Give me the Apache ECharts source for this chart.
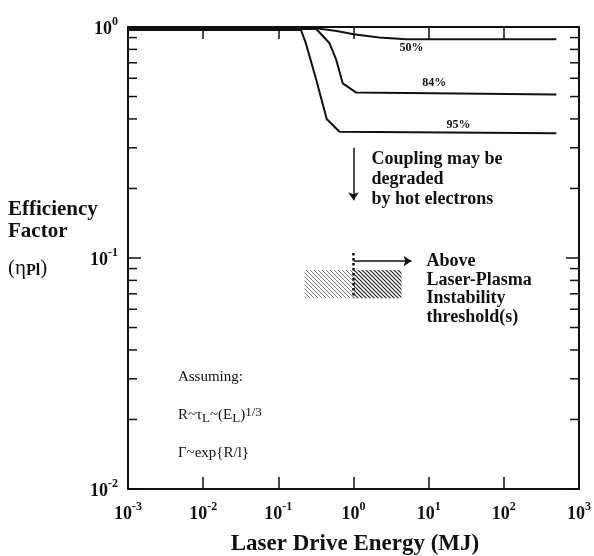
<!DOCTYPE html>
<html style="height: 100%">
<head>
  <meta charset="utf-8">
  <script src="https://cdn.jsdelivr.net/npm/echarts@6/dist/echarts.min.js"></script>
</head>
<body style="height: 100%; margin: 0; background: #fff">
  <div id="container" style="width: 594px; height: 556px"></div>
  <script>
    // laser drive energy (MJ) vs efficiency factor, one curve per confidence level
    var e50 = [0.001, 0.3, 0.6, 1, 2.2, 5, 500];
    var v50 = [0.99, 0.99, 0.96, 0.93, 0.90, 0.885, 0.885];
    var e84 = [0.001, 0.32, 0.48, 0.59, 0.72, 1.09, 500];
    var v84 = [0.98, 0.98, 0.85, 0.72, 0.57, 0.52, 0.51];
    var e95 = [0.001, 0.2, 0.23, 0.32, 0.44, 0.65, 500];
    var v95 = [0.97, 0.97, 0.86, 0.59, 0.40, 0.352, 0.347];

    // log minor ticks on the efficiency axis
    var minorY = [0.02, 0.03, 0.04, 0.05, 0.06, 0.07, 0.08, 0.09,
                  0.2, 0.3, 0.4, 0.5, 0.6, 0.7, 0.8, 0.9];

    // hatched instability box: [x0, x1, y0, y1, shade]
    var hatchBoxes = [[0.224, 1, 0.067, 0.0887, 0], [1, 4.36, 0.067, 0.0887, 1]];

    // annotations (data coords)
    var noteX = [5.9, 11.9, 24.9];
    var noteY = [0.81, 0.573, 0.377];
    var noteText = ['50%', '84%', '95%'];

    var blockX = [1.74, 9.35, 0.00461];
    var blockY = [0.294, 0.106, 0.0335];
    var blockText = [
      'Coupling may be\ndegraded\nby hot electrons',
      'Above\nLaser-Plasma\nInstability\nthreshold(s)',
      'Assuming:\n\nR~τ{sub|L}~(E{sub|L}){sup|1/3}\n\nΓ~exp{R/l}'
    ];

    var serif = '"Liberation Serif", "DejaVu Serif", serif';
    var ink = '#111';

    function zip(a, b) {
      return a.map(function(x, i) { return [x, b[i]]; });
    }

    function powLabel(v) {
      var e = Math.round(Math.log10(v));
      return '{b|10}{s|' + e + '}';
    }

    function hatch(color, w) {
      var c = document.createElement('canvas');
      c.width = 4; c.height = 4;
      var ctx = c.getContext('2d');
      ctx.strokeStyle = color;
      ctx.lineWidth = w;
      ctx.beginPath();
      ctx.moveTo(0, 0); ctx.lineTo(4, 4);
      ctx.moveTo(-1, 3); ctx.lineTo(1, 5);
      ctx.moveTo(3, -1); ctx.lineTo(5, 1);
      ctx.stroke();
      return c;
    }
    var patterns = [
      { image: hatch('#777', 1), repeat: 'repeat' },
      { image: hatch('#222', 1.2), repeat: 'repeat' }
    ];

    var labelRich = {
      b: { fontFamily: serif, fontWeight: 'bold', fontSize: 18, color: ink, verticalAlign: 'bottom', lineHeight: 22 },
      s: { fontFamily: serif, fontWeight: 'bold', fontSize: 12, color: ink, verticalAlign: 'top', lineHeight: 12 }
    };

    var dom = document.getElementById('container');
    var myChart = echarts.init(dom);

    var curveStyle = { color: ink, width: 2 };

    option = {
      animation: false,
      backgroundColor: '#fff',
      grid: { left: 128, right: 14, top: 27, bottom: 67 },
      xAxis: [{
        type: 'log', min: 0.001, max: 1000, splitNumber: 6,
        axisLine: { lineStyle: { color: ink, width: 2 } },
        axisTick: { inside: true, length: 12, lineStyle: { color: ink, width: 1.5 } },
        splitLine: { show: false },
        axisLabel: { margin: 12, formatter: powLabel, rich: labelRich }
      }, {
        type: 'log', min: 0.001, max: 1000, splitNumber: 6, position: 'top',
        axisLine: { lineStyle: { color: ink, width: 2 } },
        axisTick: { inside: true, length: 12, lineStyle: { color: ink, width: 1.5 } },
        splitLine: { show: false },
        axisLabel: { show: false }
      }],
      yAxis: [{
        type: 'log', min: 0.01, max: 1, splitNumber: 2,
        axisLine: { lineStyle: { color: ink, width: 2 } },
        axisTick: { inside: true, length: 13, lineStyle: { color: ink, width: 1.5 } },
        splitLine: { show: false },
        axisLabel: { margin: 10, formatter: powLabel, rich: labelRich }
      }, {
        type: 'log', min: 0.01, max: 1, splitNumber: 2, position: 'right',
        axisLine: { lineStyle: { color: ink, width: 2 } },
        axisTick: { inside: true, length: 13, lineStyle: { color: ink, width: 1.5 } },
        splitLine: { show: false },
        axisLabel: { show: false }
      }],
      graphic: [
        { type: 'text', x: 8, y: 210, style: { text: 'Efficiency', font: 'bold 21px ' + serif, fill: ink, verticalAlign: 'middle' } },
        { type: 'text', x: 8, y: 232, style: { text: 'Factor', font: 'bold 21px ' + serif, fill: ink, verticalAlign: 'middle' } },
        { type: 'text', x: 8, y: 268, style: {
          text: '(η{sub|Pl})', font: '21px ' + serif, fill: ink, verticalAlign: 'middle',
          rich: { sub: { fontFamily: serif, fontWeight: 'bold', fontSize: 16, verticalAlign: 'bottom', lineHeight: 14, padding: [10, 0, 0, 0] } }
        } },
        { type: 'text', x: 355, y: 544, style: { text: 'Laser Drive Energy (MJ)', font: 'bold 23px ' + serif, fill: ink, align: 'center', verticalAlign: 'middle' } }
      ],
      series: [{
        name: '50%', type: 'line', data: zip(e50, v50), symbol: 'none', lineStyle: curveStyle,
        markLine: {
          silent: true, symbol: ['none', 'arrow'], symbolSize: 8,
          label: { show: false },
          lineStyle: { color: ink, width: 1.5, type: 'solid' },
          data: [
            [{ coord: [1, 0.30] }, { coord: [1, 0.178] }],
            [{ coord: [1, 0.097] }, { coord: [5.9, 0.097] }],
            [{ coord: [1, 0.105], symbol: 'none', lineStyle: { type: 'dotted', width: 2.5, color: ink } },
             { coord: [1, 0.067], symbol: 'none' }]
          ]
        }
      }, {
        name: '84%', type: 'line', data: zip(e84, v84), symbol: 'none', lineStyle: curveStyle
      }, {
        name: '95%', type: 'line', data: zip(e95, v95), symbol: 'none', lineStyle: curveStyle
      }, {
        type: 'custom', silent: true, z: 1,
        data: hatchBoxes,
        encode: { x: [0, 1], y: [2, 3] },
        renderItem: function(params, api) {
          var p0 = api.coord([api.value(0), api.value(3)]);
          var p1 = api.coord([api.value(1), api.value(2)]);
          return {
            type: 'rect',
            shape: { x: p0[0], y: p0[1], width: p1[0] - p0[0], height: p1[1] - p0[1] },
            style: { fill: patterns[api.value(4)] }
          };
        }
      }, {
        type: 'custom', silent: true,
        data: minorY.map(function(v) { return [1, v]; }),
        encode: { x: 0, y: 1 },
        renderItem: function(params, api) {
          var cs = params.coordSys;
          var y = api.coord([1, api.value(1)])[1];
          var st = { stroke: ink, lineWidth: 1.5 };
          return {
            type: 'group',
            children: [
              { type: 'line', shape: { x1: cs.x, y1: y, x2: cs.x + 9, y2: y }, style: st },
              { type: 'line', shape: { x1: cs.x + cs.width, y1: y, x2: cs.x + cs.width - 9, y2: y }, style: st }
            ]
          };
        }
      }, {
        type: 'custom', silent: true,
        data: zip(noteX, noteY),
        encode: { x: 0, y: 1 },
        renderItem: function(params, api) {
          var p = api.coord([api.value(0), api.value(1)]);
          return {
            type: 'text', x: p[0], y: p[1],
            style: { text: noteText[params.dataIndex], font: 'bold 12px ' + serif, fill: ink, align: 'center', verticalAlign: 'middle' }
          };
        }
      }, {
        type: 'custom', silent: true,
        data: zip(blockX, blockY),
        encode: { x: 0, y: 1 },
        renderItem: function(params, api) {
          var p = api.coord([api.value(0), api.value(1)]);
          var i = params.dataIndex;
          var plain = i === 2;
          return {
            type: 'text', x: p[0], y: p[1],
            style: {
              text: blockText[i],
              font: (plain ? '' : 'bold ') + (plain ? 15 : 18) + 'px ' + serif,
              lineHeight: plain ? 19 : (i === 0 ? 20 : 18.5),
              fill: ink, align: 'left', verticalAlign: 'top',
              rich: {
                sub: { fontFamily: serif, fontSize: 13, verticalAlign: 'bottom', lineHeight: 12, padding: [8, 0, 0, 0] },
                sup: { fontFamily: serif, fontSize: 13, verticalAlign: 'top', lineHeight: 12, padding: [0, 0, 8, 0] }
              }
            }
          };
        }
      }]
    };
    myChart.setOption(option);
  </script>
</body>
</html>
